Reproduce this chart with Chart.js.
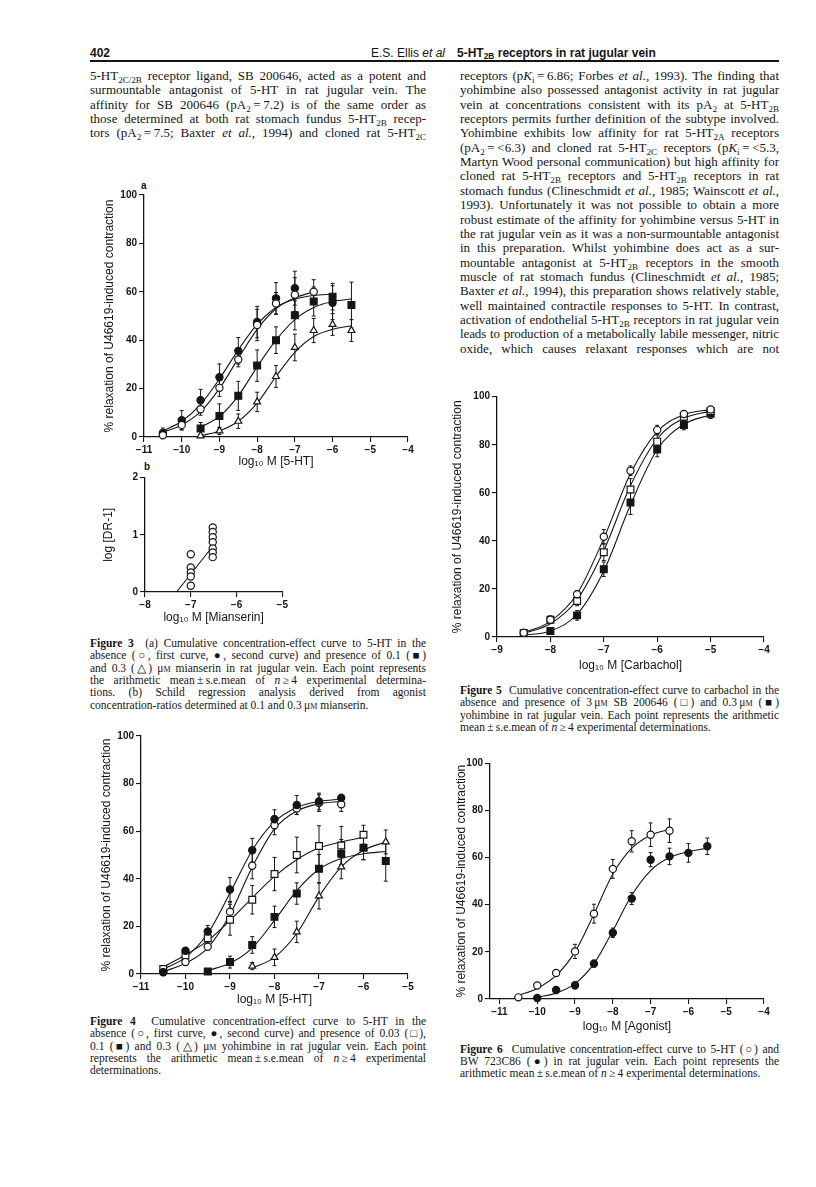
<!DOCTYPE html>
<html>
<head>
<meta charset="utf-8">
<script src="https://cdn.jsdelivr.net/npm/chart.js@4.4.1/dist/chart.umd.min.js"></script>
<style>
html, body { margin: 0; padding: 0; background: #fff; }
body { width: 816px; height: 1187px; position: relative; overflow: hidden;
       font-family: "Liberation Serif", "Times New Roman", serif; color: #151515; }
.ln { position: absolute; text-align: justify; text-align-last: justify; }
.body { font-size: 13px; line-height: 14px; }
.cap { font-size: 11.5px; line-height: 12px; }
.left { text-align-last: left; }
sub { font-size: 70%; vertical-align: -0.28em; line-height: 0; }
.sc { font-variant: small-caps; }
canvas { position: absolute; }
.hdr { position: absolute; top: 46px; font-family: "Liberation Sans Narrow", "Liberation Sans", sans-serif;
       font-size: 12px; line-height: 14px; white-space: nowrap; }
.rule { position: absolute; left: 90px; width: 689px; top: 60px; height: 2px; background: #151515; }
.panel { position: absolute; font-family: "Liberation Sans", sans-serif; font-weight: bold; font-size: 10px; }
</style>
</head>
<body>
<div class="hdr" style="left:90px;font-weight:bold;">402</div>
<div class="hdr" style="right:371px;">E.S. Ellis <i>et al</i></div>
<div class="hdr" style="left:457px;font-weight:bold;">5-HT<sub>2B</sub> receptors in rat jugular vein</div>
<div class="rule"></div>

<div class="panel" style="left:141px;top:180px;">a</div>
<div class="panel" style="left:144px;top:461px;">b</div>

<canvas id="c3a" width="330" height="289" style="left:90px;top:180px;"></canvas>
<canvas id="c3b" width="204" height="160" style="left:90px;top:465px;"></canvas>
<canvas id="c4" width="330" height="285" style="left:90px;top:722px;"></canvas>
<canvas id="c5" width="336" height="290" style="left:440px;top:383px;"></canvas>
<canvas id="c6" width="336" height="284" style="left:440px;top:750px;"></canvas>

<script>
// ---------- Figure 3a : 5-HT, mianserin ----------
const f3aOpenX = [-10.5, -10, -9.5, -9, -8.5, -8, -7.5, -7, -6.5];
const f3aOpenY = [0.7, 5, 11.5, 20.3, 32, 46.3, 55.2, 58.8, 60];
const f3aOpenErr = [1.5, 2, 2.5, 3.5, 3, 6.5, 4.5, 7, 5];
const f3aFillX = [-10.5, -10, -9.5, -9, -8.5, -8, -7.5, -7, -6];
const f3aFillY = [1.7, 6.9, 15.2, 24.7, 35.6, 47.5, 57.3, 61.5, 55.5];
const f3aFillErr = [2, 4, 4.5, 5.5, 5.5, 6.5, 6.5, 7, 7];
const f3aSqX = [-9.5, -9, -8.5, -8, -7.5, -7, -6.5, -6, -5.5];
const f3aSqY = [3.5, 8.7, 17, 29.5, 40, 50.3, 56, 58, 54.5];
const f3aSqErr = [2.5, 5, 6, 6.5, 5.5, 6, 6, 5.5, 9.5];
const f3aTriX = [-9.5, -9, -8.5, -8, -7.5, -7, -6.5, -6, -5.5];
const f3aTriY = [0.5, 2.5, 6.5, 14.5, 25, 37, 44, 46.5, 44];
const f3aTriErr = [0.5, 1.5, 3, 4, 4.5, 5.5, 5, 4.5, 4.5];
// fitted curves
const f3aOpenFitX = [-10.5, -10, -9.5, -9, -8.5, -8, -7.5, -7, -6.5];
const f3aOpenFitY = [2, 5, 10.5, 20, 32.5, 44.5, 53, 57.5, 60];
const f3aFillFitX = [-10.5, -10, -9.5, -9, -8.5, -8, -7.5, -7, -6.5, -6];
const f3aFillFitY = [2.5, 6.5, 13.5, 24, 36, 46.5, 53.5, 57, 58.5, 59];
const f3aSqFitX = [-9.5, -9, -8.5, -8, -7.5, -7, -6.5, -6, -5.5];
const f3aSqFitY = [4, 8.5, 17, 29, 40, 48.5, 53.5, 56, 57];
const f3aTriFitX = [-9.5, -9, -8.5, -8, -7.5, -7, -6.5, -6, -5.5];
const f3aTriFitY = [0.5, 2.5, 6.5, 14, 25, 35, 41.5, 44.5, 46];

// ---------- Figure 3b : Schild plot ----------
const f3bConcX = [-7, -7, -7, -7, -7, -6.52, -6.52, -6.52, -6.52, -6.52, -6.52, -6.52];
const f3bLogDr = [0.66, 0.43, 0.34, 0.27, 0.11, 1.13, 1.05, 0.96, 0.87, 0.76, 0.69, 0.61];
const f3bLineX = [-7.31, -6.52];
const f3bLineY = [0, 0.8];

// ---------- Figure 4 : 5-HT, yohimbine ----------
const f4FillX = [-10.5, -10, -9.5, -9, -8.5, -8, -7.5, -7, -6.5];
const f4FillY = [0.7, 9.8, 17.9, 35.5, 52, 65, 71, 72.5, 74];
const f4FillErr = [0.8, 1.2, 2.5, 5, 5, 4, 4, 3.5, 1.5];
const f4OpenX = [-10.5, -10, -9.5, -9, -8.5, -8, -7.5, -7, -6.5];
const f4OpenY = [0.8, 5, 11.5, 26.2, 45.5, 62.5, 69.5, 71.8, 71.3];
const f4OpenErr = [0.8, 1, 1.5, 4, 5.5, 4, 2.5, 3.5, 3];
const f4SqOpenX = [-10.5, -10, -9.5, -9, -8.5, -8, -7.5, -7, -6.5, -6];
const f4SqOpenY = [2.1, 7.8, 15, 22.8, 31.2, 42, 50, 53.8, 54, 58.5];
const f4SqOpenErr = [1, 2, 3, 6.5, 6, 7, 7.5, 8.5, 8, 4];
const f4SqFillX = [-9.5, -9, -8.5, -8, -7.5, -7, -6.5, -6, -5.5];
const f4SqFillY = [1.1, 5, 12.2, 24, 33.8, 44.2, 50.5, 53, 47.5];
const f4SqFillErr = [0.5, 2.5, 3.5, 4.5, 4.5, 6, 6, 5, 8.5];
const f4TriX = [-8.5, -8, -7.5, -7, -6.5, -6, -5.5];
const f4TriY = [3.3, 7, 17.7, 32.8, 45, 53, 55.5];
const f4TriErr = [1.5, 3.5, 4.5, 5.5, 5, 5, 5];
const f4FillFitX = [-10.5, -10, -9.5, -9, -8.5, -8, -7.5, -7, -6.5];
const f4FillFitY = [2, 7, 17, 34, 52, 64, 70, 72.5, 73.5];
const f4OpenFitX = [-10.5, -10, -9.5, -9, -8.5, -8, -7.5, -7, -6.5];
const f4OpenFitY = [1, 4.5, 11, 25, 45, 61, 68.5, 71.5, 72.5];
const f4SqOpenFitX = [-10.5, -10, -9.5, -9, -8.5, -8, -7.5, -7, -6.5, -6];
const f4SqOpenFitY = [3, 8, 14, 22.5, 32, 41, 48, 53, 55.5, 57.5];
const f4SqFillFitX = [-9.5, -9, -8.5, -8, -7.5, -7, -6.5, -6, -5.5];
const f4SqFillFitY = [1.5, 4.5, 11, 22.5, 35, 44, 48.5, 50.5, 51.5];
const f4TriFitX = [-8.5, -8, -7.5, -7, -6.5, -6, -5.5];
const f4TriFitY = [2.5, 7, 17, 32.5, 45, 52, 55.5];

// ---------- Figure 5 : carbachol ----------
const f5OpenX = [-8.5, -8, -7.5, -7, -6.5, -6, -5.5, -5];
const f5OpenY = [1.8, 7.2, 17.8, 41.7, 69.2, 86.1, 92.8, 94.7];
const f5OpenErr = [0.5, 1.5, 1.5, 3, 2, 2, 1, 1];
const f5SqOpenX = [-8.5, -8, -7.5, -7, -6.5, -6, -5.5, -5];
const f5SqOpenY = [1.7, 7.2, 15, 35.3, 61.4, 81.3, 91.7, 94];
const f5SqOpenErr = [0.5, 1.5, 2, 3.5, 4.5, 3, 1.5, 1];
const f5SqFillX = [-8, -7.5, -7, -6.5, -6, -5.5, -5];
const f5SqFillY = [2.5, 9, 28.2, 56, 78, 88.2, 92.9];
const f5SqFillErr = [1, 2, 3, 5, 3, 2, 2];
const f5OpenFitX = [-8.5, -8, -7.5, -7, -6.5, -6, -5.5, -5];
const f5OpenFitY = [1.8, 6.5, 18, 41, 68, 85.5, 92.5, 94.7];
const f5SqOpenFitX = [-8.5, -8, -7.5, -7, -6.5, -6, -5.5, -5];
const f5SqOpenFitY = [1.5, 5.5, 15.5, 36, 63, 82.5, 91, 94];
const f5SqFillFitX = [-8.5, -8, -7.5, -7, -6.5, -6, -5.5, -5];
const f5SqFillFitY = [0.8, 2.5, 9.5, 27.5, 55, 78, 88.5, 92.5];

// ---------- Figure 6 : 5-HT and BW 723C86 ----------
const f6OpenX = [-10.5, -10, -9.5, -9, -8.5, -8, -7.5, -7, -6.5];
const f6OpenY = [0.7, 5.7, 11, 20.2, 36.2, 55.2, 66.9, 69.7, 71.4];
const f6OpenErr = [0.5, 1, 1, 3, 4, 4, 4.5, 5, 5];
const f6FillX = [-10, -9.5, -9, -8.5, -8, -7.5, -7, -6.5, -6, -5.5];
const f6FillY = [0.4, 3.8, 5.8, 15, 28.1, 42.6, 59.1, 60.5, 62, 64.8];
const f6FillErr = [0.5, 1, 1.5, 1.5, 2, 2.5, 3, 3.5, 4, 3.5];
const f6OpenFitX = [-10.5, -10, -9.5, -9, -8.5, -8, -7.5, -7, -6.5];
const f6OpenFitY = [1.5, 4.5, 10, 20, 36, 53, 64, 69.5, 72];
const f6FillFitX = [-10, -9.5, -9, -8.5, -8, -7.5, -7, -6.5, -6, -5.5];
const f6FillFitY = [0.8, 2.5, 6.5, 15, 29, 44, 54.5, 60, 62.5, 64];

// tick labels
const pctTicks = [0, 20, 40, 60, 80, 100];
const drTicks = [0, 1, 2];
const f3aXTicks = [-11, -10, -9, -8, -7, -6, -5, -4];
const f3bXTicks = [-8, -7, -6, -5];
const f4XTicks = [-11, -10, -9, -8, -7, -6, -5];
const f5XTicks = [-9, -8, -7, -6, -5, -4];
const f6XTicks = [-11, -10, -9, -8, -7, -6, -5, -4];

const INK = '#151515';
const yTitle = '% relaxation of U46619-induced contraction';

Chart.defaults.font.family = '"Liberation Sans", Arial, sans-serif';
Chart.defaults.color = INK;

function pts(xs, ys) {
    return xs.map((x, i) => ({ x: x, y: ys[i] }));
}

function markers(xs, ys, errs, style, filled, r) {
    return {
        data: pts(xs, ys), errors: errs, showLine: false,
        pointStyle: style, pointRadius: r,
        pointBackgroundColor: filled ? INK : '#fff',
        pointBorderColor: INK, pointBorderWidth: 1.2, clip: false
    };
}

function fitLine(xs, ys, mono) {
    return {
        data: pts(xs, ys), showLine: true, pointRadius: 0,
        borderColor: INK, borderWidth: 1.1, fill: false,
        cubicInterpolationMode: mono === false ? 'default' : 'monotone',
        tension: 0, clip: false
    };
}

const minus = v => (v < 0 ? '\u2212' + Math.abs(v) : String(v));

// error bars drawn under the markers
const errorBars = {
    id: 'errorBars',
    beforeDatasetsDraw(chart) {
        const ctx = chart.ctx;
        const ys = chart.scales.y;
        ctx.save();
        ctx.strokeStyle = INK;
        ctx.lineWidth = 1;
        chart.data.datasets.forEach((ds, i) => {
            if (!ds.errors) return;
            chart.getDatasetMeta(i).data.forEach((p, j) => {
                const v = ds.data[j].y, e = ds.errors[j];
                const top = ys.getPixelForValue(v + e);
                const bot = ys.getPixelForValue(Math.max(v - e, 0));
                ctx.beginPath();
                ctx.moveTo(p.x, top); ctx.lineTo(p.x, bot);
                ctx.moveTo(p.x - 2, top); ctx.lineTo(p.x + 2, top);
                ctx.moveTo(p.x - 2, bot); ctx.lineTo(p.x + 2, bot);
                ctx.stroke();
            });
        });
        ctx.restore();
    }
};

function axis(o, isX) {
    return {
        type: 'linear',
        min: isX ? o.xMin : o.yMin,
        max: isX ? o.xMax : o.yMax,
        afterBuildTicks: s => { s.ticks = (isX ? o.xTicks : o.yTicks).map(v => ({ value: v })); },
        afterFit: s => { if (isX) s.height = o.xH; else s.width = o.yW; },
        grid: { drawOnChartArea: false, drawTicks: true, tickLength: 5, color: INK, lineWidth: 1.1 },
        border: { display: true, color: INK, width: 1.3 },
        ticks: { color: INK, font: { size: 10, weight: 'bold' }, padding: 2,
                 maxRotation: 0, autoSkip: false, callback: minus },
        title: {
            display: true, text: isX ? o.xTitle : o.yTitle, color: INK,
            font: { size: 12 },
            padding: isX ? { top: 0, bottom: 0 } : { top: o.yPad, bottom: 0 }
        }
    };
}

function makeChart(id, datasets, o) {
    return new Chart(document.getElementById(id), {
        type: 'scatter',
        data: { datasets: datasets },
        options: {
            responsive: false, animation: false, devicePixelRatio: 1, events: [],
            layout: { padding: { top: o.padTop, right: o.padRight, left: 0, bottom: 0 } },
            plugins: { legend: { display: false }, tooltip: { enabled: false } },
            scales: { x: axis(o, true), y: axis(o, false) }
        },
        plugins: [errorBars]
    });
}

// Figure 3a
makeChart('c3a', [
    markers(f3aOpenX, f3aOpenY, f3aOpenErr, 'circle', false, 3.6),
    markers(f3aFillX, f3aFillY, f3aFillErr, 'circle', true, 3.6),
    markers(f3aSqX, f3aSqY, f3aSqErr, 'rect', true, 4.8),
    markers(f3aTriX, f3aTriY, f3aTriErr, 'triangle', false, 4),
    fitLine(f3aOpenFitX, f3aOpenFitY),
    fitLine(f3aFillFitX, f3aFillFitY),
    fitLine(f3aSqFitX, f3aSqFitY),
    fitLine(f3aTriFitX, f3aTriFitY)
], { xMin: -11, xMax: -4, xTicks: f3aXTicks, yMin: 0, yMax: 100, yTicks: pctTicks,
     xTitle: 'log\u2081\u2080 M [5-HT]', yTitle: yTitle,
     yW: 54, xH: 32, padTop: 15, padRight: 12, yPad: 12.8 });

// Figure 3b
makeChart('c3b', [
    markers(f3bConcX, f3bLogDr, null, 'circle', false, 3.6),
    fitLine(f3bLineX, f3bLineY, false)
], { xMin: -8, xMax: -5, xTicks: f3bXTicks, yMin: 0, yMax: 2, yTicks: drTicks,
     xTitle: 'log\u2081\u2080 M [Mianserin]', yTitle: 'log [DR-1]',
     yW: 55, xH: 33, padTop: 12.7, padRight: 11.7, yPad: 11.8 });

// Figure 4
makeChart('c4', [
    markers(f4FillX, f4FillY, f4FillErr, 'circle', true, 3.6),
    markers(f4OpenX, f4OpenY, f4OpenErr, 'circle', false, 3.6),
    markers(f4SqOpenX, f4SqOpenY, f4SqOpenErr, 'rect', false, 4.8),
    markers(f4SqFillX, f4SqFillY, f4SqFillErr, 'rect', true, 4.8),
    markers(f4TriX, f4TriY, f4TriErr, 'triangle', false, 4),
    fitLine(f4FillFitX, f4FillFitY),
    fitLine(f4OpenFitX, f4OpenFitY),
    fitLine(f4SqOpenFitX, f4SqOpenFitY),
    fitLine(f4SqFillFitX, f4SqFillFitY),
    fitLine(f4TriFitX, f4TriFitY)
], { xMin: -11, xMax: -5, xTicks: f4XTicks, yMin: 0, yMax: 100, yTicks: pctTicks,
     xTitle: 'log\u2081\u2080 M [5-HT]', yTitle: yTitle,
     yW: 51, xH: 33, padTop: 14, padRight: 12, yPad: 9.5 });

// Figure 5
makeChart('c5', [
    markers(f5OpenX, f5OpenY, f5OpenErr, 'circle', false, 3.6),
    markers(f5SqOpenX, f5SqOpenY, f5SqOpenErr, 'rect', false, 4.8),
    markers(f5SqFillX, f5SqFillY, f5SqFillErr, 'rect', true, 4.8),
    fitLine(f5OpenFitX, f5OpenFitY),
    fitLine(f5SqOpenFitX, f5SqOpenFitY),
    fitLine(f5SqFillFitX, f5SqFillFitY)
], { xMin: -9, xMax: -4, xTicks: f5XTicks, yMin: 0, yMax: 100, yTicks: pctTicks,
     xTitle: 'log\u2081\u2080 M [Carbachol]', yTitle: yTitle,
     yW: 57, xH: 36, padTop: 13.7, padRight: 12, yPad: 10.8 });

// Figure 6
makeChart('c6', [
    markers(f6OpenX, f6OpenY, f6OpenErr, 'circle', false, 3.6),
    markers(f6FillX, f6FillY, f6FillErr, 'circle', true, 3.6),
    fitLine(f6OpenFitX, f6OpenFitY),
    fitLine(f6FillFitX, f6FillFitY)
], { xMin: -11.25, xMax: -4, xTicks: f6XTicks, yMin: 0, yMax: 100, yTicks: pctTicks,
     xTitle: 'log\u2081\u2080 M [Agonist]', yTitle: yTitle,
     yW: 50, xH: 35, padTop: 13.3, padRight: 12, yPad: 14 });

// ---------- page text ----------
const uM = '\u03bc<span class="sc">m</span>';

function block(lines, x, y, w, step, cls, lh, lastLeft) {
    lines.forEach((html, i) => {
        const d = document.createElement('div');
        d.className = 'ln ' + cls + (lastLeft && i === lines.length - 1 ? ' left' : '');
        d.style.left = x + 'px';
        d.style.top = (y + i * step) + 'px';
        d.style.width = w + 'px';
        d.innerHTML = html;
        document.body.appendChild(d);
        // squeeze a line a little if it would wrap
        let ls = 0;
        while (d.offsetHeight > lh * 1.5 && ls > -1) {
            ls -= 0.1;
            d.style.letterSpacing = ls + 'px';
        }
    });
}

block([
    '5-HT<sub>2C/2B</sub> receptor ligand, SB 200646, acted as a potent and',
    'surmountable antagonist of 5-HT in rat jugular vein. The',
    'affinity for SB 200646 (pA<sub>2</sub>&thinsp;=&thinsp;7.2) is of the same order as',
    'those determined at both rat stomach fundus 5-HT<sub>2B</sub> recep-',
    'tors (pA<sub>2</sub>&thinsp;=&thinsp;7.5; Baxter <i>et al.</i>, 1994) and cloned rat 5-HT<sub>2C</sub>'
], 90, 69, 336, 14.35, 'body', 14, false);

block([
    'receptors (p<i>K</i><sub>i</sub>&thinsp;=&thinsp;6.86; Forbes <i>et al.</i>, 1993). The finding that',
    'yohimbine also possessed antagonist activity in rat jugular',
    'vein at concentrations consistent with its pA<sub>2</sub> at 5-HT<sub>2B</sub>',
    'receptors permits further definition of the subtype involved.',
    'Yohimbine exhibits low affinity for rat 5-HT<sub>2A</sub> receptors',
    '(pA<sub>2</sub>&thinsp;=&thinsp;&lt;6.3) and cloned rat 5-HT<sub>2C</sub> receptors (p<i>K</i><sub>i</sub>&thinsp;=&thinsp;&lt;5.3,',
    'Martyn Wood personal communication) but high affinity for',
    'cloned rat 5-HT<sub>2B</sub> receptors and 5-HT<sub>2B</sub> receptors in rat',
    'stomach fundus (Clineschmidt <i>et al.</i>, 1985; Wainscott <i>et al.</i>,',
    '1993). Unfortunately it was not possible to obtain a more',
    'robust estimate of the affinity for yohimbine versus 5-HT in',
    'the rat jugular vein as it was a non-surmountable antagonist',
    'in this preparation. Whilst yohimbine does act as a sur-',
    'mountable antagonist at 5-HT<sub>2B</sub> receptors in the smooth',
    'muscle of rat stomach fundus (Clineschmidt <i>et al.</i>, 1985;',
    'Baxter <i>et al.</i>, 1994), this preparation shows relatively stable,',
    'well maintained contractile responses to 5-HT. In contrast,',
    'activation of endothelial 5-HT<sub>2B</sub> receptors in rat jugular vein',
    'leads to production of a metabolically labile messenger, nitric',
    'oxide, which causes relaxant responses which are not'
], 460, 69, 319, 14.35, 'body', 14, false);

block([
    '<b>Figure 3</b>&nbsp; (a) Cumulative concentration-effect curve to 5-HT in the',
    'absence (\u25cb, first curve, \u25cf, second curve) and presence of 0.1 (\u25a0)',
    'and 0.3 (\u25b3) ' + uM + ' mianserin in rat jugular vein. Each point represents',
    'the arithmetic mean&thinsp;\u00b1&thinsp;s.e.mean of <i>n</i>&thinsp;\u2265&thinsp;4 experimental determina-',
    'tions. (b) Schild regression analysis derived from agonist',
    'concentration-ratios determined at 0.1 and 0.3&thinsp;' + uM + ' mianserin.'
], 90, 637, 336, 12.3, 'cap', 12, true);

block([
    '<b>Figure 4</b>&nbsp; Cumulative concentration-effect curve to 5-HT in the',
    'absence (\u25cb, first curve, \u25cf, second curve) and presence of 0.03 (\u25a1),',
    '0.1 (\u25a0) and 0.3 (\u25b3) ' + uM + ' yohimbine in rat jugular vein. Each point',
    'represents the arithmetic mean&thinsp;\u00b1&thinsp;s.e.mean of <i>n</i>&thinsp;\u2265&thinsp;4 experimental',
    'determinations.'
], 90, 1015, 336, 12.3, 'cap', 12, true);

block([
    '<b>Figure 5</b>&nbsp; Cumulative concentration-effect curve to carbachol in the',
    'absence and presence of 3&thinsp;' + uM + ' SB 200646 (\u25a1) and 0.3&thinsp;' + uM + ' (\u25a0)',
    'yohimbine in rat jugular vein. Each point represents the arithmetic',
    'mean&thinsp;\u00b1&thinsp;s.e.mean of <i>n</i>&thinsp;\u2265&thinsp;4 experimental determinations.'
], 460, 684, 319, 12.3, 'cap', 12, true);

block([
    '<b>Figure 6</b>&nbsp; Cumulative concentration-effect curve to 5-HT (\u25cb) and',
    'BW 723C86 (\u25cf) in rat jugular vein. Each point represents the',
    'arithmetic mean&thinsp;\u00b1&thinsp;s.e.mean of <i>n</i>&thinsp;\u2265&thinsp;4 experimental determinations.'
], 460, 1043, 319, 12.1, 'cap', 12, true);
</script>
</body>
</html>
